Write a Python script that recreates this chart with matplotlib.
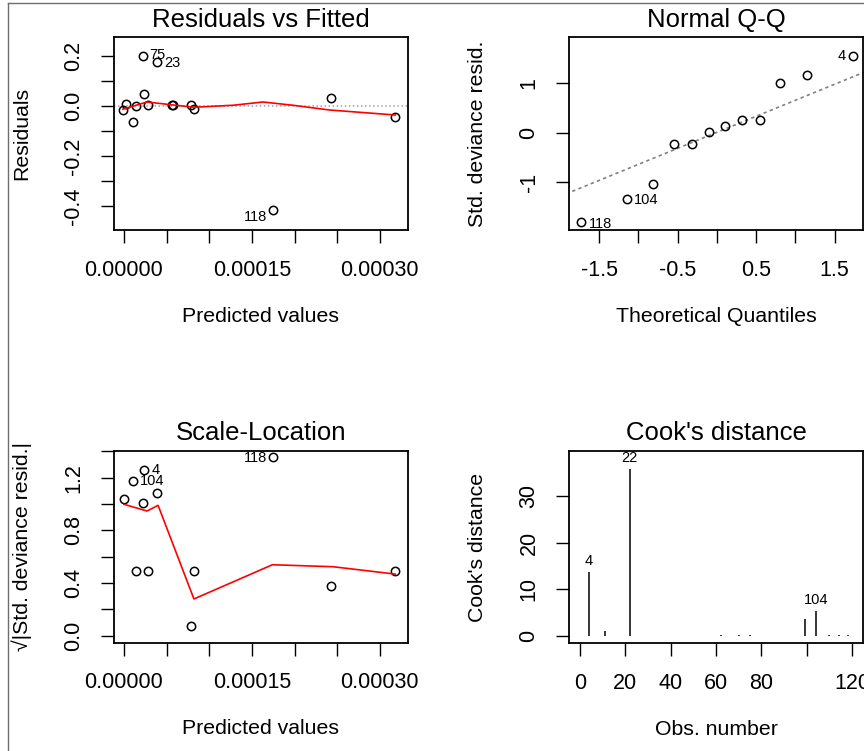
import numpy as np
import matplotlib
matplotlib.use("Agg")
from matplotlib import pyplot as plt
from matplotlib.lines import Line2D

plt.rcParams['font.family'] = ['Liberation Sans', 'DejaVu Sans']

# residuals vs fitted
rf_fitted = [-1.5e-6, 2.3e-6, 1.0e-5, 1.4e-5, 2.2e-5, 2.4e-5, 2.8e-5, 3.9e-5,
             5.6e-5, 5.8e-5, 7.9e-5, 8.2e-5, 1.75e-4, 2.43e-4, 3.18e-4]
rf_resid = [-0.016, 0.007, -0.063, 0.001, 0.201, 0.05, 0.003, 0.177,
            0.003, 0.003, 0.003, -0.01, -0.416, 0.033, -0.045]
rf_smooth_x = [-1.5e-6, 2.7e-5, 5.8e-5, 8.2e-5, 1.28e-4, 1.63e-4, 1.98e-4, 2.41e-4, 3.18e-4]
rf_smooth_y = [-0.013, 0.016, 0.004, -0.005, 0.003, 0.016, 0.003, -0.016, -0.036]
rf_ids = {4: "75", 7: "23", 12: "118"}

# normal Q-Q
qq_theo = [-1.73, -1.15, -0.81, -0.55, -0.32, -0.10, 0.10, 0.32, 0.55, 0.81, 1.15, 1.73]
qq_sample = [-1.80, -1.34, -1.04, -0.22, -0.22, 0.01, 0.13, 0.26, 0.26, 1.01, 1.17, 1.55]
qq_ids = {0: "118", 1: "104", 11: "4"}

# scale-location
sl_fitted = [0, 1.0e-5, 1.4e-5, 2.2e-5, 2.4e-5, 2.8e-5, 3.9e-5, 7.9e-5, 8.2e-5,
             1.75e-4, 2.43e-4, 3.18e-4]
sl_value = [1.04, 1.175, 0.494, 1.005, 1.256, 0.494, 1.086, 0.074, 0.494, 1.36, 0.38, 0.494]
sl_smooth_x = [0, 2.7e-5, 4.0e-5, 8.2e-5, 1.74e-4, 2.45e-4, 3.18e-4]
sl_smooth_y = [0.998, 0.947, 0.99, 0.279, 0.539, 0.524, 0.468]
sl_ids = {4: "4", 1: "104", 9: "118"}

# cook's distance
obs = [4, 11, 22, 62, 70, 75, 99, 104, 110, 114, 118]
cook = [13.6, 1.1, 35.8, 0.25, 0.25, 0.25, 3.7, 5.3, 0.25, 0.25, 0.25]
cook_ids = {0: "4", 2: "22", 7: "104"}

W, H = 864, 751
fig = plt.figure(figsize=(W / 100, H / 100), dpi=100)


def px_rect(x0, y0, x1, y1):
    return [x0 / W, 1 - y1 / H, (x1 - x0) / W, (y1 - y0) / H]


def setup(ax, title):
    for s in ax.spines.values():
        s.set_linewidth(1.3)
    ax.tick_params(direction='out', length=9.4, width=1.0, pad=12, labelsize=15.5)
    ax.tick_params(axis='y', labelrotation=90)
    for lab in ax.get_yticklabels():
        lab.set_va('center')
    ax.set_title(title, fontsize=18.5, pad=7.5)


def labels(ax, xlab, ylab, box):
    x0, y0, x1, y1 = box
    fig.text(((x0 + x1) / 2) / W, 1 - (y1 + 91.5) / H, xlab, ha='center', va='baseline', fontsize=15.3)
    fig.text((x0 - 82.3) / W, 1 - ((y0 + y1) / 2) / H, ylab, ha='right', va='center',
             rotation=90, fontsize=15.3)


def ident(ax, xs, ys, ids, side):
    for i, t in ids.items():
        dx, dy = side[i]
        ax.annotate(t, (xs[i], ys[i]), xytext=(dx, dy), textcoords='offset pixels',
                    ha='left' if dx > 0 else 'right', va='center', fontsize=10.5,
                    annotation_clip=False)


xt = np.arange(0, 0.00031, 0.00005)
xt_lab = ['0.00000', '', '', '0.00015', '', '', '0.00030']
mk = dict(mfc='none', mec='black', ms=6, mew=1.1)

# --- panel 1
b1 = (114, 37, 408, 230)
ax1 = fig.add_axes(px_rect(*b1))
ax1.axhline(0, color='#a0a0a0', ls=':', lw=1.1)
ax1.plot(rf_fitted, rf_resid, 'o', **mk)
ax1.plot(rf_smooth_x, rf_smooth_y, color='red', lw=1.2)
ax1.set_xlim(-1.17e-5, 3.33e-4)
ax1.set_ylim(-0.496, 0.276)
ax1.set_xticks(xt, xt_lab)
ax1.set_yticks(np.arange(-0.4, 0.21, 0.1), ['-0.4', '', '-0.2', '', '0.0', '', '0.2'])
setup(ax1, "Residuals vs Fitted")
ident(ax1, rf_fitted, rf_resid, rf_ids, {4: (7, 1), 7: (7, -1), 12: (-6.6, -6.7)})
labels(ax1, "Predicted values", "Residuals", b1)

# --- panel 2
b2 = (569.3, 37, 863.3, 230)
ax2 = fig.add_axes(px_rect(*b2))
q1, q3 = np.percentile(qq_sample, [25, 75])
slope = (q3 - q1) / (2 * 0.6745)
inter = (q1 + q3) / 2
lx = np.array([-2.0, 2.0])
ax2.plot(lx, inter + slope * lx, color='#808080', ls=(0, (2, 2)), lw=1.2)
ax2.plot(qq_theo, qq_sample, 'o', **mk)
ax2.set_xlim(-1.88, 1.865)
ax2.set_ylim(-1.96, 1.935)
ax2.set_xticks([-1.5, -1, -0.5, 0, 0.5, 1, 1.5], ['-1.5', '', '-0.5', '', '0.5', '', '1.5'])
ax2.set_yticks([-1, 0, 1], ['-1', '0', '1'])
setup(ax2, "Normal Q-Q")
ident(ax2, qq_theo, qq_sample, qq_ids, {0: (7.7, -2.3), 1: (7.3, -1), 11: (-6.7, 0)})
labels(ax2, "Theoretical Quantiles", "Std. deviance resid.", b2)

# --- panel 3
b3 = (114, 450.7, 408, 642.7)
ax3 = fig.add_axes(px_rect(*b3))
ax3.plot(sl_fitted, sl_value, 'o', **mk)
ax3.plot(sl_smooth_x, sl_smooth_y, color='red', lw=1.2)
ax3.set_xlim(-1.17e-5, 3.33e-4)
ax3.set_ylim(-0.053, 1.405)
ax3.set_xticks(xt, xt_lab)
ax3.set_yticks(np.arange(0, 1.41, 0.2), ['0.0', '', '0.4', '', '0.8', '', '1.2', ''])
setup(ax3, "Scale-Location")
ident(ax3, sl_fitted, sl_value, sl_ids, {4: (7.4, 0), 1: (7.3, 0), 9: (-6.6, -1.6)})
labels(ax3, "Predicted values", "\u221a|Std. deviance resid.|", b3)

# --- panel 4
b4 = (569.3, 450.7, 863.3, 643.3)
ax4 = fig.add_axes(px_rect(*b4))
ax4.vlines(obs, 0, cook, color='black', lw=1.1)
ax4.set_xlim(-4.6, 124.9)
ax4.set_ylim(-1.63, 39.8)
ax4.set_xticks([0, 20, 40, 60, 80, 100, 120], ['0', '20', '40', '60', '80', '', '120'])
ax4.set_yticks([0, 10, 20, 30])
setup(ax4, "Cook's distance")
for i, t in cook_ids.items():
    ax4.annotate(t, (obs[i], cook[i]), xytext=(0, 4), textcoords='offset pixels',
                 ha='center', va='bottom', fontsize=10.5)
labels(ax4, "Obs. number", "Cook's distance", b4)

# screenshot border
fig.add_artist(Line2D([8.3 / W, 1], [1 - 2.5 / H, 1 - 2.5 / H], color='#6e6e6e', lw=1.0))
fig.add_artist(Line2D([8.3 / W, 8.3 / W], [0, 1 - 2.5 / H], color='#6e6e6e', lw=1.0))

fig.savefig("out.png", dpi=100)
